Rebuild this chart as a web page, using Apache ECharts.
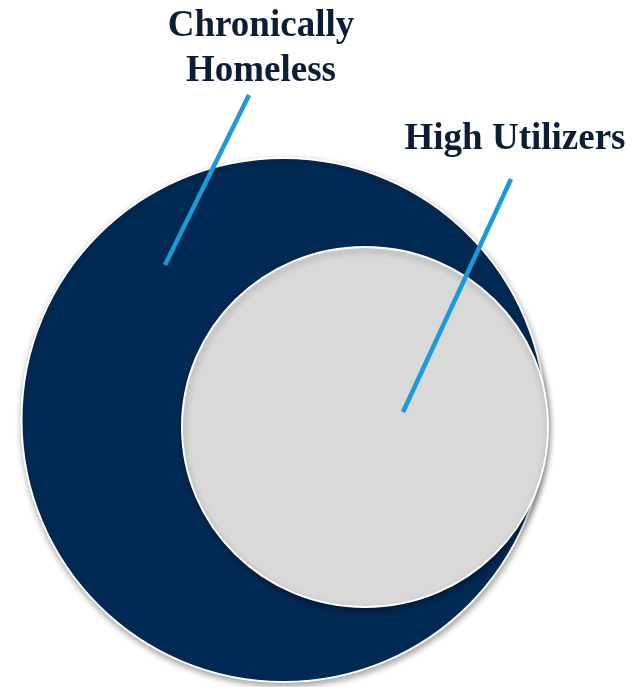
<!DOCTYPE html>
<html>
<head>
<meta charset="utf-8">
<script src="https://cdn.jsdelivr.net/npm/echarts@6/dist/echarts.min.js"></script>
<style>
html,body{margin:0;padding:0;background:#fff;}
#main{width:641px;height:687px;}
</style>
</head>
<body>
<div id="main"></div>
<script>
// Sets (in chart units: x 0..641, y 0..687 from top)
const setNames = ['Chronically Homeless', 'High Utilizers'];
const setCenterX = [283.5, 365];
const setCenterY = [420, 427];
const setRadiusX = [262, 183];
const setRadiusY = [262, 180];
const setColors = ['#002a54', '#d9d9d9'];

// Callout labels
const labelLines = [['Chronically', 'Homeless'], ['High Utilizers']];
const labelX = [261, 515];
const labelY = [49, 139];

// Leader lines [x, y]
const leaderFrom = [[249, 95], [511, 179]];
const leaderTo = [[165, 265], [403, 412]];

const circleData = setNames.map((n, i) => [setCenterX[i], setCenterY[i], setRadiusX[i], setRadiusY[i], i]);
const labelData = setNames.map((n, i) => [labelX[i], labelY[i], i]);

const chart = echarts.init(document.getElementById('main'));
const series = [
  {
    type: 'custom',
    coordinateSystem: 'cartesian2d',
    data: circleData,
    silent: true,
    renderItem: function (params, api) {
      const c = api.coord([api.value(0), api.value(1)]);
      const s = api.size([api.value(2), api.value(3)]);
      const i = api.value(4);
      return {
        type: 'ellipse',
        shape: { cx: c[0], cy: c[1], rx: s[0], ry: s[1] },
        style: {
          fill: setColors[i],
          stroke: '#ffffff',
          lineWidth: 2,
          shadowColor: 'rgba(0,0,0,0.35)',
          shadowBlur: 6,
          shadowOffsetX: 1,
          shadowOffsetY: 3
        }
      };
    }
  }
];
leaderFrom.forEach((p, i) => {
  series.push({
    type: 'line',
    data: [p, leaderTo[i]],
    symbol: 'none',
    silent: true,
    z: 5,
    lineStyle: { color: '#1a9ad6', width: 4.5, cap: 'butt' }
  });
});
series.push({
  type: 'custom',
  coordinateSystem: 'cartesian2d',
  data: labelData,
  silent: true,
  z: 6,
  renderItem: function (params, api) {
    const c = api.coord([api.value(0), api.value(1)]);
    const i = api.value(2);
    return {
      type: 'text',
      x: c[0],
      y: c[1],
      style: {
        text: labelLines[i].join('\n'),
        fill: '#0e1d36',
        font: 'bold 37px "Liberation Serif", "Times New Roman", serif',
        lineHeight: 45,
        align: 'center',
        verticalAlign: 'middle'
      }
    };
  }
});

chart.setOption({
  animation: false,
  backgroundColor: '#ffffff',
  grid: { left: 0, right: 0, top: 0, bottom: 0 },
  xAxis: { type: 'value', min: 0, max: 641, show: false },
  yAxis: { type: 'value', min: 0, max: 687, inverse: true, show: false },
  series: series
});
</script>
</body>
</html>
